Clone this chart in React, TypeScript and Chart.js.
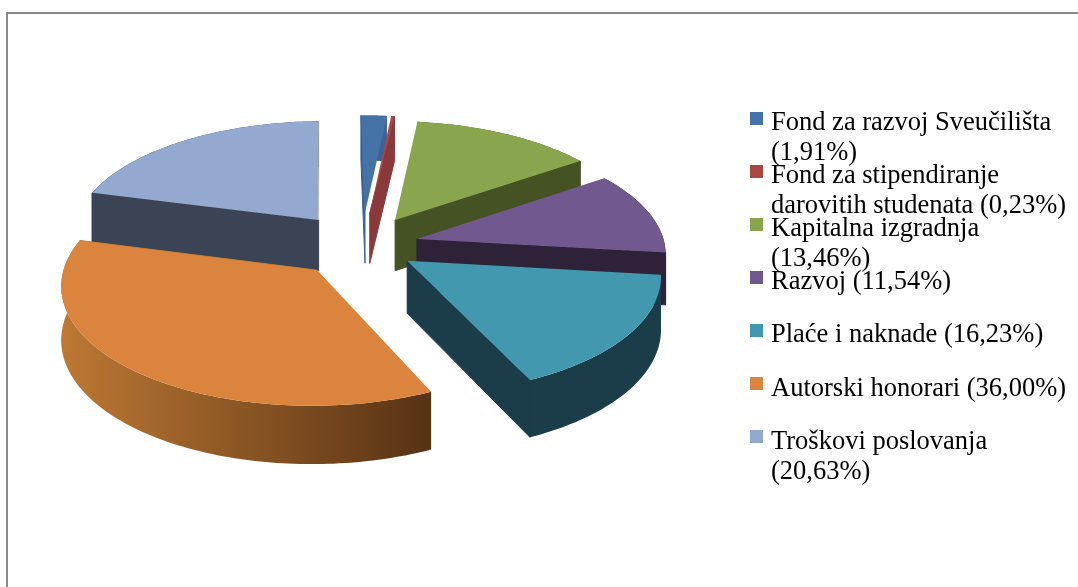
import React, { useEffect, useRef } from "react";
import { Chart, registerables } from "chart.js";

Chart.register(...registerables);

const categories = [
  "Fond za razvoj Sveučilišta",
  "Fond za stipendiranje darovitih studenata",
  "Kapitalna izgradnja",
  "Razvoj",
  "Plaće i naknade",
  "Autorski honorari",
  "Troškovi poslovanja",
];
const shares = [1.91, 0.23, 13.46, 11.54, 16.23, 36.0, 20.63];
const legendLines = [
  ["Fond za razvoj Sveučilišta", "(1,91%)"],
  ["Fond za stipendiranje", "darovitih studenata (0,23%)"],
  ["Kapitalna izgradnja", "(13,46%)"],
  ["Razvoj (11,54%)"],
  ["Plaće i naknade (16,23%)"],
  ["Autorski honorari (36,00%)"],
  ["Troškovi poslovanja", "(20,63%)"],
];
const explode = [73, 73, 66, 57, 55, 68, 72];
const topColors = ["#4572a7", "#aa4643", "#89a54e", "#71588f", "#4198af", "#db843d", "#93a9cf"];
const legendColors = ["#4572a7", "#aa4643", "#89a54e", "#71588f", "#4198af", "#db843d", "#93a9cf"];
const wallFrom = ["#3a6497", "#8b383a", "#445224", "#2d2238", "#1b3c49", "#bd7834", "#3b4454"];
const wallTo = ["#3a6497", "#8b383a", "#445224", "#2d2238", "#1b3c49", "#573214", "#3b4454"];

const TILT = 0.463;
const PERSPECTIVE = 0.11;
const CENTER_SHIFT = -48;
const DEPTH = 52;

const fillPoly = (ctx: any, pts: number[][], style: any, seal = false) => {
  ctx.beginPath();
  pts.forEach((p, n) => (n ? ctx.lineTo(p[0], p[1]) : ctx.moveTo(p[0], p[1])));
  ctx.closePath();
  ctx.fillStyle = style;
  ctx.fill();
  if (seal) {
    ctx.strokeStyle = style;
    ctx.lineWidth = 1;
    ctx.stroke();
  }
};
const signedArea = (pts: number[][]) =>
  pts.reduce((t, p, n) => {
    const q = pts[(n + 1) % pts.length];
    return t + p[0] * q[1] - q[0] * p[1];
  }, 0);

const pie3d = {
  id: "pie3d",
  beforeDatasetDraw(chart: any) {
    const ctx = chart.ctx;
    const arcs = chart.getDatasetMeta(0).data;
    const order = arcs
      .map((_: any, i: number) => i)
      .sort((a: number, b: number) => {
        const ma = (arcs[a].startAngle + arcs[a].endAngle) / 2;
        const mb = (arcs[b].startAngle + arcs[b].endAngle) / 2;
        return Math.sin(ma) - Math.sin(mb);
      });
    for (const i of order) {
      const el = arcs[i];
      const R = el.outerRadius;
      const o = el.options.offset;
      const mid = (el.startAngle + el.endAngle) / 2;
      const pt = (a: number, r: number, h: number) => {
        const px = o * Math.cos(mid) + r * Math.cos(a);
        const py = o * Math.sin(mid) + r * Math.sin(a);
        const v = py / R;
        const s = 1 / (1 - PERSPECTIVE * v);
        return [el.x + px * s, el.y + CENTER_SHIFT + TILT * py * s + h * (1 + 0.1 * v)];
      };
      const steps = Math.max(2, Math.ceil((el.endAngle - el.startAngle) / 0.02));
      const angle = (k: number) => el.startAngle + ((el.endAngle - el.startAngle) * k) / steps;
      const rim: number[][] = [];
      const rimLow: number[][] = [];
      for (let k = 0; k <= steps; k++) {
        rim.push(pt(angle(k), R, 0));
        rimLow.push(pt(angle(k), R, DEPTH));
      }
      const xs = rim.map((p) => p[0]);
      const grad = ctx.createLinearGradient(Math.min(...xs), 0, Math.max(...xs), 0);
      grad.addColorStop(0, wallFrom[i]);
      grad.addColorStop(1, wallTo[i]);

      const apex = pt(0, 0, 0);
      const apexLow = pt(0, 0, DEPTH);
      fillPoly(ctx, [...rim, ...rimLow.slice().reverse()], grad);
      // radial walls: only the ones that face the viewer
      const startWall = [apex, rim[0], rimLow[0], apexLow];
      const endWall = [rim[steps], apex, apexLow, rimLow[steps]];
      if (signedArea(startWall) < 0) fillPoly(ctx, startWall, wallFrom[i], true);
      else fillPoly(ctx, endWall, wallFrom[i], true);
      fillPoly(ctx, [apex, ...rim], topColors[i]);
    }
    return false;
  },
};

export default function App() {
  const ref = useRef<HTMLCanvasElement>(null);
  useEffect(() => {
    const chart = new Chart(ref.current!, {
      type: "pie",
      data: {
        labels: categories,
        datasets: [
          { data: shares, backgroundColor: topColors, borderWidth: 0, offset: explode } as any,
        ],
      },
      options: {
        responsive: false,
        animation: false,
        rotation: -1,
        layout: { padding: { right: 354, top: 9, bottom: 9 } },
        plugins: { legend: { display: false }, tooltip: { enabled: false } },
      },
      plugins: [pie3d],
    } as any);
    return () => chart.destroy();
  }, []);

  return (
    <div style={{ position: "fixed", left: 0, top: 0, width: 1078, height: 587, overflow: "hidden", background: "#fff" }}>
      <div style={{ position: "absolute", left: 6, top: 12, right: -10, bottom: -10, borderLeft: "2px solid #8a8a8a", borderTop: "2px solid #8a8a8a" }} />
      <canvas ref={ref} width={1078} height={587} style={{ position: "absolute", left: 0, top: 0, width: 1078, height: 587 }} />
      {legendLines.map((lines, i) => (
        <div key={i}>
          <div style={{ position: "absolute", left: 750, top: 112 + i * 53, width: 13, height: 13, background: legendColors[i] }} />
          <div style={{ position: "absolute", left: 771, top: 106 + i * 53.1, font: "26.5px 'Liberation Serif'", lineHeight: "30px", color: "#000", whiteSpace: "nowrap" }}>
            {lines.map((l) => (
              <div key={l}>{l}</div>
            ))}
          </div>
        </div>
      ))}
    </div>
  );
}
